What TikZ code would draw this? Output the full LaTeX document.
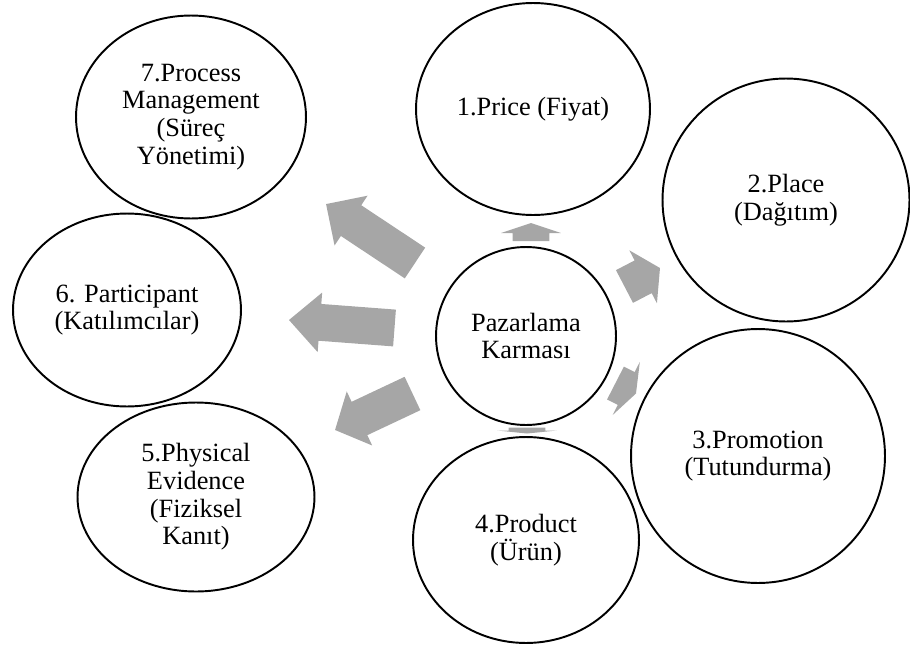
\documentclass[tikz,border=0pt]{standalone}
\usepackage{fontspec}
\setmainfont{Liberation Serif}
\usetikzlibrary{shapes.geometric,calc}

\definecolor{arrowgray}{RGB}{166,166,166}

\tikzset{
  bubble/.style={draw=black, line width=1.1pt, ellipse, inner sep=0pt,
    align=center, font=\fontsize{15}{15.8}\selectfont},
  arrowfill/.style={fill=arrowgray},
}

% Block arrow from #1 (back of the shaft) to #2 (tip); #3 = head length in px
\newcommand\blockarrow[3]{%
  \fill[arrowfill] let \p1=(#1), \p2=(#2),
      \n1={atan2(\y2-\y1,\x2-\x1)},
      \n2={veclen(\x2-\x1,\y2-\y1)},
      \n3={#3*0.5691}
    in [shift={(\p1)}, rotate=\n1]
    (0pt,-10.5pt) -- ({(\n2-\n3)*1pt},-10.5pt) -- ({(\n2-\n3)*1pt},-17pt)
    -- ({\n2*1pt},0pt) -- ({(\n2-\n3)*1pt},17pt) -- ({(\n2-\n3)*1pt},10.5pt)
    -- (0pt,10.5pt) -- cycle;}

\begin{document}
\begin{tikzpicture}[x=0.02cm, y=-0.02cm]
  \useasboundingbox (0,0) rectangle (910,646);

  % arrow end points
  \coordinate (a1s) at (531,241);   \coordinate (a1t) at (531,223);
  \coordinate (a2s) at (624.5,286.5); \coordinate (a2t) at (660,268);
  \coordinate (a3s) at (615.5,383); \coordinate (a3t) at (636,393.5);
  \coordinate (a4s) at (527,427.5); \coordinate (a4t) at (527,433.5);
  \coordinate (a5s) at (412.5,393.5); \coordinate (a5t) at (335,430);
  \coordinate (a6s) at (394.5,328); \coordinate (a6t) at (289,320);
  \coordinate (a7s) at (415,263);   \coordinate (a7t) at (326,204);

  \blockarrow{a1s}{a1t}{10}
  \blockarrow{a2s}{a2t}{19}
  \blockarrow{a3s}{a3t}{11}
  \blockarrow{a4s}{a4t}{3}
  \blockarrow{a5s}{a5t}{27}
  \blockarrow{a6s}{a6t}{31}
  \blockarrow{a7s}{a7t}{30}

  % circles
  \node[bubble, minimum width=3.6cm,  minimum height=3.56cm] (core)  at (526,336) {Pazarlama\\Karması};
  \node[bubble, minimum width=4.68cm, minimum height=4.24cm] (price) at (533,109) {1.Price (Fiyat)};
  \node[bubble, minimum width=4.94cm, minimum height=4.86cm] (place) at (786,200) {2.Place\\(Dağıtım)};
  \node[bubble, minimum width=5.08cm, minimum height=5.08cm] (promo) at (758,456) {3.Promotion\\(Tutundurma)};
  \node[bubble, minimum width=4.52cm, minimum height=4.12cm] (prod)  at (526,540) {4.Product\\(Ürün)};
  \node[bubble, minimum width=4.74cm, minimum height=3.78cm] (phys)  at (196,497) {5.Physical\\Evidence\\(Fiziksel\\Kanıt)};
  \node[bubble, minimum width=4.56cm, minimum height=3.86cm] (part)  at (127,310) {6. Participant\\(Katılımcılar)};
  \node[bubble, minimum width=4.6cm,  minimum height=4.06cm] (proc)  at (191,117) {7.Process\\Management\\(Süreç\\Yönetimi)};
\end{tikzpicture}
\end{document}
